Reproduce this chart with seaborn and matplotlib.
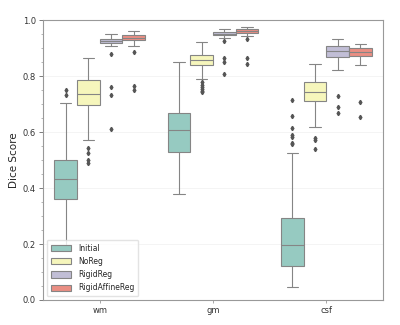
import numpy as np
import pandas as pd
import matplotlib
matplotlib.use("Agg")
import matplotlib.pyplot as plt
from matplotlib.ticker import MultipleLocator
import seaborn as sns

tissues = ["wm", "gm", "csf"]
methods = ["Initial", "NoReg", "RigidReg", "RigidAffineReg"]

# box summary: (whisker low, q1, median, q3, whisker high)
wm_stats = [(0.198, 0.362, 0.434, 0.502, 0.705),
            (0.573, 0.698, 0.737, 0.785, 0.866),
            (0.907, 0.919, 0.927, 0.934, 0.949),
            (0.907, 0.930, 0.937, 0.948, 0.962)]
gm_stats = [(0.380, 0.529, 0.607, 0.669, 0.850),
            (0.790, 0.838, 0.857, 0.875, 0.923),
            (0.937, 0.946, 0.952, 0.958, 0.967),
            (0.944, 0.954, 0.961, 0.967, 0.976)]
csf_stats = [(0.046, 0.120, 0.198, 0.292, 0.526),
             (0.617, 0.711, 0.742, 0.780, 0.844),
             (0.821, 0.869, 0.890, 0.908, 0.931),
             (0.838, 0.872, 0.887, 0.899, 0.916)]

# outliers
wm_out = [[0.731, 0.752],
          [0.542, 0.524, 0.502, 0.488],
          [0.879, 0.760, 0.732, 0.610],
          [0.887, 0.764, 0.750]]
gm_out = [[],
          [0.778, 0.770, 0.762, 0.755, 0.748, 0.742],
          [0.924, 0.866, 0.851, 0.807],
          [0.931, 0.864, 0.845]]
csf_out = [[0.714, 0.657, 0.613, 0.589, 0.584, 0.562, 0.556],
           [0.580, 0.571, 0.538],
           [0.729, 0.690, 0.667],
           [0.708, 0.655]]

all_stats = {"wm": wm_stats, "gm": gm_stats, "csf": csf_stats}
all_out = {"wm": wm_out, "gm": gm_out, "csf": csf_out}

# expand summaries into samples that reproduce them
rows = []
for t in tissues:
    for m, st, out in zip(methods, all_stats[t], all_out[t]):
        lo, q1, med, q3, hi = st
        vals = [lo] + [q1] * 20 + [med] * 20 + [q3] * 20 + [hi] + out
        for v in vals:
            rows.append({"Tissue": t, "Method": m, "Dice Score": v})
df = pd.DataFrame(rows)

sns.set_style("white")
plt.rcParams["font.family"] = ["DejaVu Sans"]

fig = plt.figure(figsize=(4, 3.25), dpi=100)
ax = fig.add_axes([0.1075, 0.077, 0.85, 0.861])

sns.boxplot(data=df, x="Tissue", y="Dice Score", hue="Method",
            order=tissues, hue_order=methods, palette="Set3",
            saturation=0.75, linecolor="#858585", linewidth=0.8,
            width=0.8, gap=0.0,
            flierprops=dict(marker="d", markersize=2.2, markerfacecolor="#555555",
                            markeredgecolor="#555555"),
            ax=ax)

ax.set_ylim(0, 1.0)
ax.yaxis.set_major_locator(MultipleLocator(0.2))
ax.yaxis.set_minor_locator(MultipleLocator(0.05))
ax.tick_params(axis="y", which="major", left=True, length=3, width=0.6,
               color="#666666", labelsize=6, labelcolor="#333333", pad=2)
ax.tick_params(axis="y", which="minor", left=True, length=1.5, width=0.5, color="#999999")
ax.tick_params(axis="x", bottom=True, length=2, width=0.6, color="#999999",
               labelsize=6, labelcolor="#333333", pad=2)
ax.yaxis.grid(True, color="#f2f2f2", linewidth=0.6)
ax.set_axisbelow(True)
ax.set_xlabel("")
ax.set_ylabel("Dice Score", fontsize=7.5, labelpad=3)
for sp in ax.spines.values():
    sp.set_color("#999999")
    sp.set_linewidth(0.8)

ax.legend(loc="lower left", fontsize=5.5, title=None, frameon=True,
          handlelength=2.6, handleheight=0.9, borderpad=0.5, labelspacing=0.55,
          handletextpad=1.0, edgecolor="#dddddd", fancybox=True,
          bbox_to_anchor=(0.0, 0.0))

fig.savefig("out.png", dpi=100)
